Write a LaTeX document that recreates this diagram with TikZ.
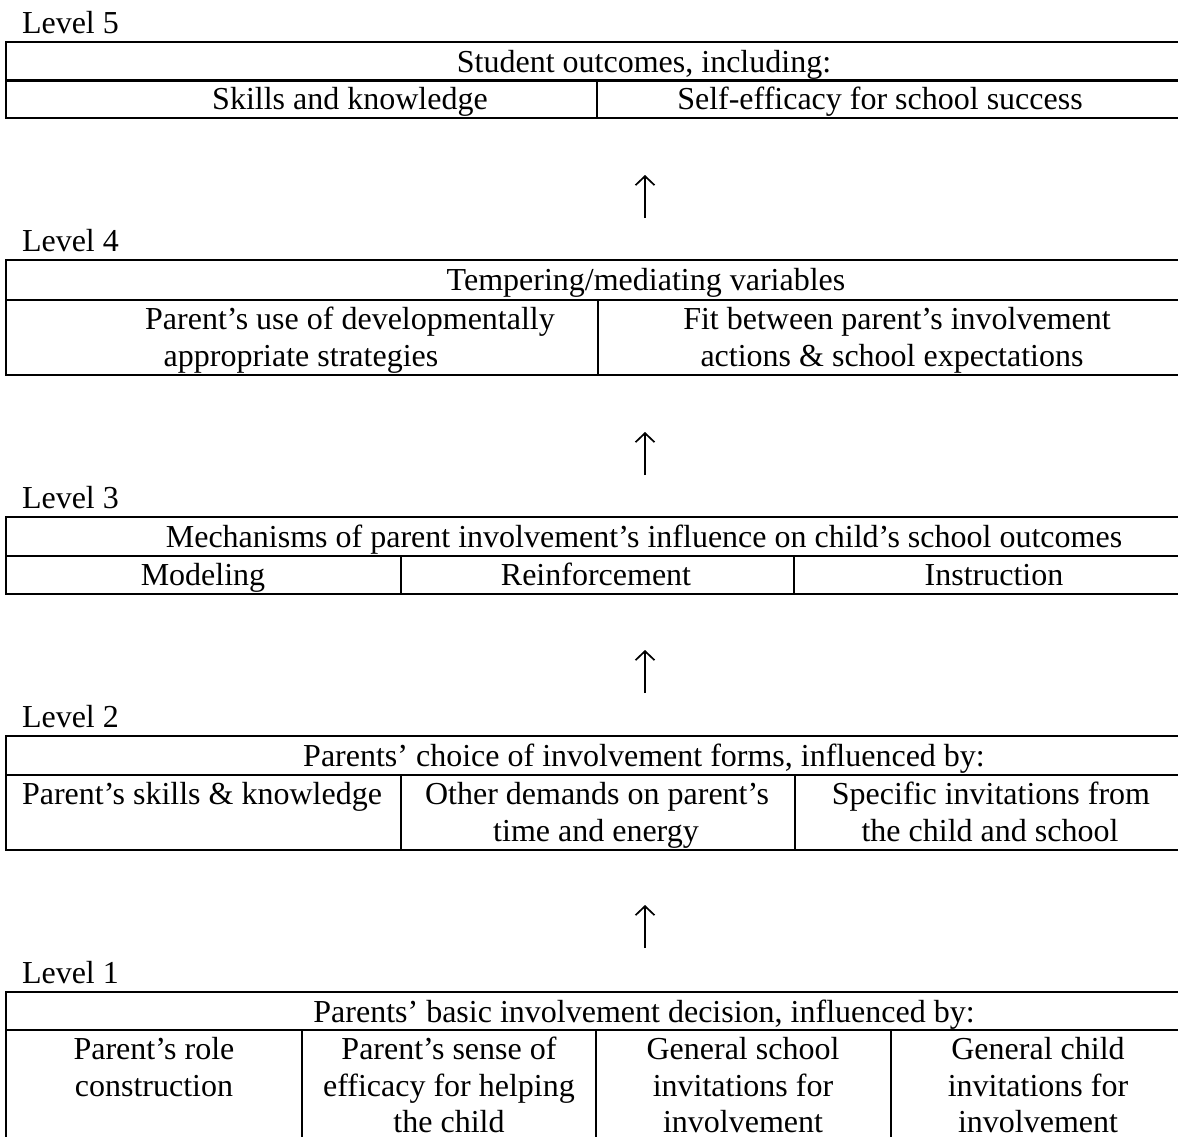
\documentclass[tikz,border=0pt]{standalone}
\usepackage{fontspec}
\setmainfont{Liberation Serif}
\usetikzlibrary{arrows.meta}
\begin{document}
\begin{tikzpicture}[x=1pt,y=-1pt,
  every node/.style={inner sep=0pt, outer sep=0pt},
  txt/.style={anchor=base, font=\fontsize{32}{37}\selectfont},
  lvl/.style={anchor=base west, font=\fontsize{32}{37}\selectfont},
  frame/.style={line width=2.5pt},
  divider/.style={line width=1.9pt},
  uparrow/.style={line width=1.7pt, -{Straight Barb[length=9pt,width=19pt,line width=1.7pt]}}]
\useasboundingbox (0,0) rectangle (1178,1137);
\clip (0,0) rectangle (1178,1137);

% ---------- Level 5 ----------
\node[lvl] (l5) at (22,33.5) {Level 5};
\draw[frame] (6,42) rectangle (1190,118);
\draw[frame] (6,80.5) -- (1190,80.5);
\draw[divider] (597,80.5) -- (597,118);
\node[txt] (h5) at (644,72.5) {Student outcomes, including:};
\node[txt] (c51) at (350,109.5) {Skills and knowledge};
\node[txt] (c52) at (880,109.5) {Self-efficacy for school success};

\coordinate (a4b) at (645,218);
\coordinate (a4t) at (645,175);
\draw[uparrow] (a4b) -- (a4t);

% ---------- Level 4 ----------
\node[lvl] (l4) at (22,251.5) {Level 4};
\draw[frame] (6,260) rectangle (1190,375);
\draw[frame] (6,300) -- (1190,300);
\draw[divider] (598,300) -- (598,375);
\node[txt] (h4) at (646,290.5) {Tempering/mediating variables};
\node[txt] (c41a) at (350,329.5) {Parent’s use of developmentally};
\node[txt] (c41b) at (301,366) {appropriate strategies};
\node[txt] (c42a) at (897,329.5) {Fit between parent’s involvement};
\node[txt] (c42b) at (892,366) {actions \& school expectations};

\coordinate (a3b) at (645,475);
\coordinate (a3t) at (645,432);
\draw[uparrow] (a3b) -- (a3t);

% ---------- Level 3 ----------
\node[lvl] (l3) at (22,508.5) {Level 3};
\draw[frame] (6,517) rectangle (1190,594);
\draw[frame] (6,556) -- (1190,556);
\draw[divider] (401,556) -- (401,594);
\draw[divider] (794,556) -- (794,594);
\node[txt] (h3) at (644,547.5) {Mechanisms of parent involvement’s influence on child’s school outcomes};
\node[txt] (c31) at (203,585.5) {Modeling};
\node[txt] (c32) at (596,585.5) {Reinforcement};
\node[txt] (c33) at (994,585.5) {Instruction};

\coordinate (a2b) at (645,693);
\coordinate (a2t) at (645,650);
\draw[uparrow] (a2b) -- (a2t);

% ---------- Level 2 ----------
\node[lvl] (l2) at (22,727.5) {Level 2};
\draw[frame] (6,736) rectangle (1190,850);
\draw[frame] (6,775) -- (1190,775);
\draw[divider] (401,775) -- (401,850);
\draw[divider] (795,775) -- (795,850);
\node[txt] (h2) at (644,766.5) {Parents’ choice of involvement forms, influenced by:};
\node[txt] (c21) at (202,804.5) {Parent’s skills \& knowledge};
\node[txt] (c22a) at (597,804.5) {Other demands on parent’s};
\node[txt] (c22b) at (596,841) {time and energy};
\node[txt] (c23a) at (991,804.5) {Specific invitations from};
\node[txt] (c23b) at (990,841) {the child and school};

\coordinate (a1b) at (645,948);
\coordinate (a1t) at (645,905);
\draw[uparrow] (a1b) -- (a1t);

% ---------- Level 1 ----------
\node[lvl] (l1) at (22,983.5) {Level 1};
\draw[frame] (6,992) rectangle (1190,1150);
\draw[frame] (6,1030) -- (1190,1030);
\draw[divider] (302,1030) -- (302,1150);
\draw[divider] (596,1030) -- (596,1150);
\draw[divider] (891,1030) -- (891,1150);
\node[txt] (h1) at (644,1022.5) {Parents’ basic involvement decision, influenced by:};
\node[txt] (c11a) at (154,1059.5) {Parent’s role};
\node[txt] (c11b) at (154,1096.5) {construction};
\node[txt] (c12a) at (449,1059.5) {Parent’s sense of};
\node[txt] (c12b) at (449,1096.5) {efficacy for helping};
\node[txt] (c12c) at (449,1132.5) {the child};
\node[txt] (c13a) at (743,1059.5) {General school};
\node[txt] (c13b) at (743,1096.5) {invitations for};
\node[txt] (c13c) at (743,1132.5) {involvement};
\node[txt] (c14a) at (1038,1059.5) {General child};
\node[txt] (c14b) at (1038,1096.5) {invitations for};
\node[txt] (c14c) at (1038,1132.5) {involvement};
\end{tikzpicture}
\end{document}
